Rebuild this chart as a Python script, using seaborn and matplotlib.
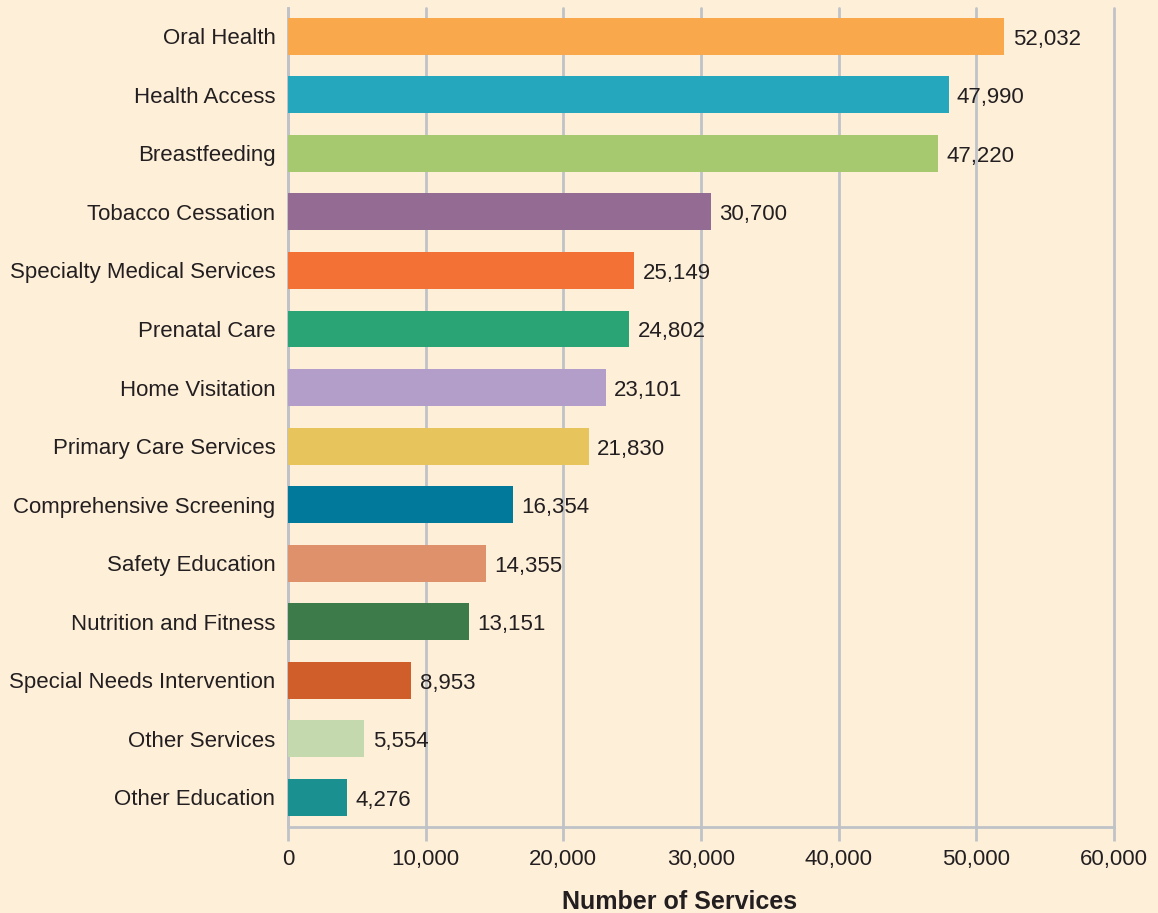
import matplotlib
matplotlib.use("Agg")
import matplotlib.pyplot as plt
import seaborn as sns
import pandas as pd
from matplotlib.ticker import FuncFormatter

services = ["Oral Health", "Health Access", "Breastfeeding", "Tobacco Cessation",
            "Specialty Medical Services", "Prenatal Care", "Home Visitation",
            "Primary Care Services", "Comprehensive Screening", "Safety Education",
            "Nutrition and Fitness", "Special Needs Intervention", "Other Services",
            "Other Education"]
counts = [52032, 47990, 47220, 30700, 25149, 24802, 23101, 21830, 16354, 14355,
          13151, 8953, 5554, 4276]
colors = ["#F9A94B", "#25A7BD", "#A6C86E", "#946C93", "#F37135", "#2AA474",
          "#B39DC9", "#E8C45C", "#01799B", "#DE916A", "#3E7B4B", "#CF5E2A",
          "#C5D9AE", "#1A9090"]

df = pd.DataFrame({"service": services, "count": counts})

bg = "#FEEFD9"
grid = "#BFC3C8"
sns.set_style("white")
plt.rcParams["font.family"] = ["Liberation Sans", "DejaVu Sans"]

fig = plt.figure(figsize=(11.58, 9.13), dpi=100, facecolor=bg)
ax = fig.add_axes([0.2487, 0.094, 0.962 - 0.2487, 0.991 - 0.094])
ax.set_facecolor(bg)

sns.barplot(data=df, x="count", y="service", hue="service", palette=colors,
            legend=False, width=0.63, saturation=1, linewidth=0, ax=ax, zorder=3)

for i, v in enumerate(counts):
    ax.text(v + 600, i + 0.05, f"{v:,}", va="center", ha="left", fontsize=16,
            color="#231F20")

ax.set_xlim(0, 60000)
ax.set_ylim(13.51, -0.48)
ax.set_xticks(range(0, 60001, 10000))
ax.xaxis.set_major_formatter(FuncFormatter(lambda x, p: f"{int(x):,}"))
ax.grid(axis="x", color=grid, linewidth=2, zorder=0)
ax.set_axisbelow(True)
for gl in ax.get_xgridlines():
    gl.set_clip_on(False)

for s in ["top", "right"]:
    ax.spines[s].set_visible(False)
for s in ["left", "bottom"]:
    ax.spines[s].set_color(grid)
    ax.spines[s].set_linewidth(2)

ax.tick_params(axis="x", length=10, width=2, color=grid, labelsize=16,
               labelcolor="#231F20", pad=6, bottom=True)
ax.tick_params(axis="y", length=0, labelsize=16, labelcolor="#231F20", pad=9)
ax.set_ylabel("")
ax.set_xlabel("Number of Services", fontsize=18, fontweight="bold",
              color="#231F20")
ax.xaxis.set_label_coords(0.4746, -0.077)

fig.savefig("out.png", dpi=100, facecolor=bg)
